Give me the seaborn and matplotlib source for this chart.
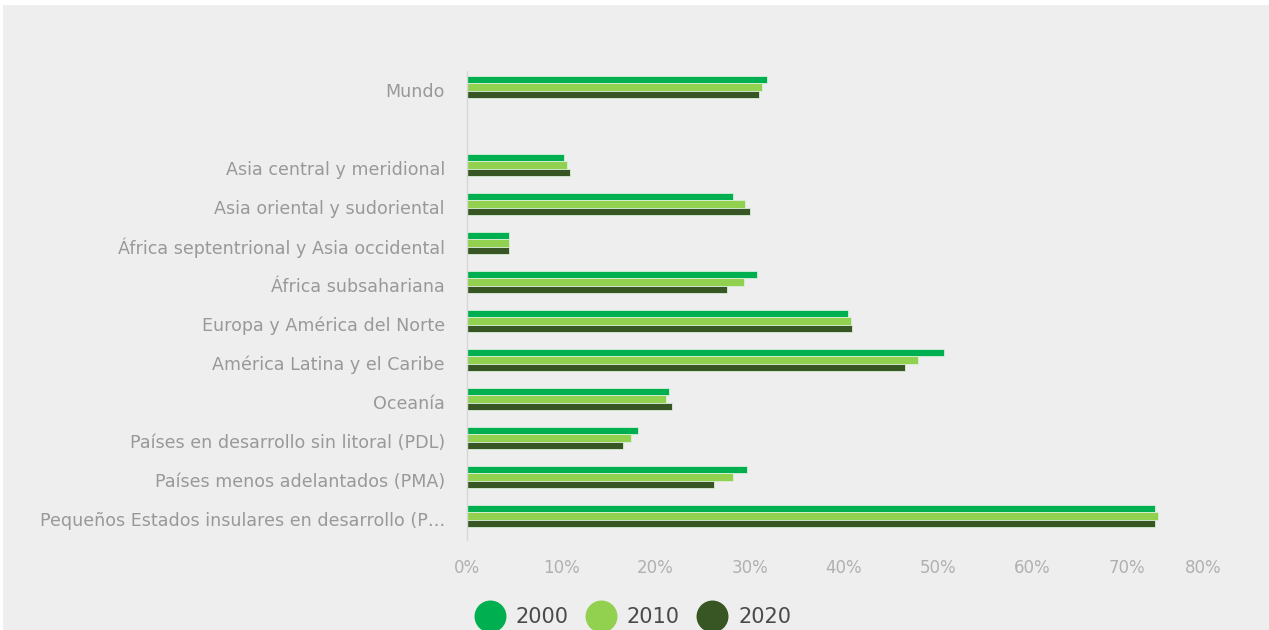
import matplotlib
matplotlib.use("Agg")
import matplotlib.pyplot as plt
import matplotlib.patches as mpatches
from matplotlib.lines import Line2D
import seaborn as sns
import pandas as pd
import numpy as np

categories = [
    "Mundo",
    "",
    "Asia central y meridional",
    "Asia oriental y sudoriental",
    "África septentrional y Asia occidental",
    "África subsahariana",
    "Europa y América del Norte",
    "América Latina y el Caribe",
    "Oceanía",
    "Países en desarrollo sin litoral (PDL)",
    "Países menos adelantados (PMA)",
    "Pequeños Estados insulares en desarrollo (P…",
]
years = ["2000", "2010", "2020"]
v2000 = [31.8, np.nan, 10.3, 28.2, 4.5, 30.8, 40.4, 50.6, 21.4, 18.1, 29.7, 73.0]
v2010 = [31.3, np.nan, 10.6, 29.5, 4.5, 29.4, 40.7, 47.9, 21.1, 17.4, 28.2, 73.3]
v2020 = [31.0, np.nan, 10.9, 30.0, 4.5, 27.6, 40.9, 46.5, 21.7, 16.6, 26.2, 73.0]
colors = ["#00B050", "#92D050", "#375623"]
xticks = [0, 10, 20, 30, 40, 50, 60, 70, 80]

df = pd.DataFrame({
    "region": categories * 3,
    "year": [y for y in years for _ in categories],
    "value": v2000 + v2010 + v2020,
})

sns.set_theme(style="white")
plt.rcParams["font.family"] = ["DejaVu Sans"]

W, H = 1269, 630
fig = plt.figure(figsize=(W / 100, H / 100), dpi=100, facecolor="white")
fig.patches.append(mpatches.Rectangle((3 / W, 0), 1 - 3 / W, 1 - 5 / H,
                                      transform=fig.transFigure,
                                      facecolor="#eeeeee", edgecolor="none", zorder=-10))

left, right = 467 / W, 1221 / W
top_px, bot_px = 67.5, 535.5
ax = fig.add_axes([left, 1 - bot_px / H, right - left, (bot_px - top_px) / H])
ax.set_facecolor("#eeeeee")

sns.barplot(data=df, y="region", x="value", hue="year", order=categories,
            hue_order=years, palette=colors, saturation=1, orient="h", width=0.58,
            edgecolor="#d9efd9", linewidth=0.6, ax=ax, legend=False, errorbar=None)

ax.set_xlim(0, 80)
ax.set_ylim(11.5, -0.5)
ax.set_xlabel("")
ax.set_ylabel("")
for s in ["top", "right", "bottom"]:
    ax.spines[s].set_visible(False)
ax.spines["left"].set_color("#d6d6d6")
ax.spines["left"].set_linewidth(1.0)
ax.spines["left"].set_bounds(-0.42, 11.62)

ax.set_yticks(np.arange(len(categories)) + 0.077)
ax.set_yticklabels(categories)
ax.set_xticks(xticks)
ax.set_xticklabels([f"{t}%" for t in xticks])
ax.tick_params(axis="x", length=0, pad=17, labelsize=12, labelcolor="#b0b0b0")
ax.tick_params(axis="y", length=0, pad=16, labelsize=12.6, labelcolor="#999999")
lbls = ax.get_xticklabels()
lbls[-1].set_horizontalalignment("right")

handles = [Line2D([0], [0], marker="o", linestyle="none", markersize=22,
                  markerfacecolor=c, markeredgecolor=c) for c in colors]
fig.legend(handles, years, loc="center", bbox_to_anchor=(630 / W, 1 - 617 / H),
           ncol=3, frameon=False, fontsize=15, labelcolor="#4a4a4a",
           handletextpad=0.25, columnspacing=0.55, borderaxespad=0)

fig.savefig("out.png", dpi=100, facecolor="white")
